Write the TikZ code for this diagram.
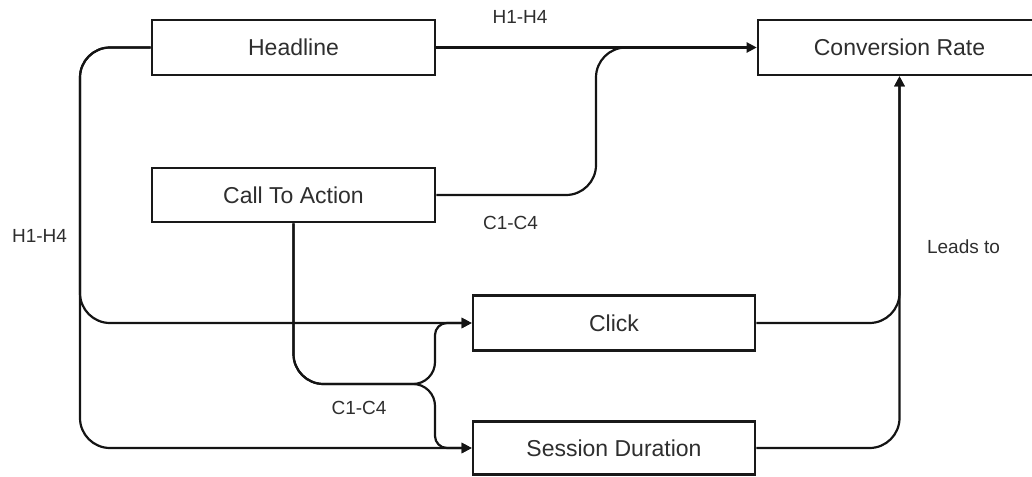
\documentclass[tikz,border=0pt]{standalone}
\usepackage{fontspec}
\setmainfont{Liberation Sans}
\usetikzlibrary{arrows.meta}
\begin{document}
\begin{tikzpicture}[x=1pt,y=-1pt,
  box/.style={draw=black!90, line width=2.6pt, fill=white, inner sep=0pt,
    font=\fontsize{23}{27}\selectfont, text=black!82},
  lbl/.style={font=\fontsize{19}{23}\selectfont, text=black!82, inner sep=0pt},
  link/.style={draw=black!92, line width=2.2pt, rounded corners=30pt},
  tip/.style={-{Triangle[length=10pt,width=10pt]}}]
\useasboundingbox (0,0) rectangle (1032,476);
\clip (0,0) rectangle (1032,476);

% boxes
\node[box, minimum width=283pt, minimum height=55pt] (head) at (293.5,47.5) {Headline};
\node[box, minimum width=283pt, minimum height=54pt] (cta)  at (293.5,195) {Call To Action};
\node[box, minimum width=283pt, minimum height=55pt] (conv) at (899.5,47.5) {Conversion Rate};
\node[box, minimum width=282pt, minimum height=55pt] (click) at (614,323) {Click};
\node[box, minimum width=282pt, minimum height=53pt] (sess)  at (614,448) {Session Duration};

% headline variants
\draw[link, tip] (head.east) -- (conv.west);
\draw[link, tip] (head.west) -- (80,47.5) -- (80,323) -- (click.west);
\draw[link, tip] (head.west) -- (80,47.5) -- (80,448) -- (sess.west);

% call-to-action variants
\draw[link] (cta.east) -- (596,195) -- (596,47.5) -- (660,47.5);
\draw[link, tip] (cta.south) -- (293.5,384) [rounded corners=22pt] -- (435,384)
  [rounded corners=12pt] -- (435,323) -- (click.west);
\draw[link, tip] (cta.south) -- (293.5,384) [rounded corners=22pt] -- (435,384)
  [rounded corners=12pt] -- (435,448) -- (sess.west);

% outcomes lead to conversion
\draw[link, tip] (click.east) -- (click.east -| conv.south) -- (conv.south);
\draw[link, tip] (sess.east) -- (sess.east -| conv.south) -- (conv.south);

% labels
\node[lbl] (lh1) at (520,17) {H1-H4};
\node[lbl] (lh2) at (39.5,236) {H1-H4};
\node[lbl] (lc1) at (510.5,223) {C1-C4};
\node[lbl] (lc2) at (359,408) {C1-C4};
\node[lbl] (lead) at (963.5,247) {Leads to};
\end{tikzpicture}
\end{document}
